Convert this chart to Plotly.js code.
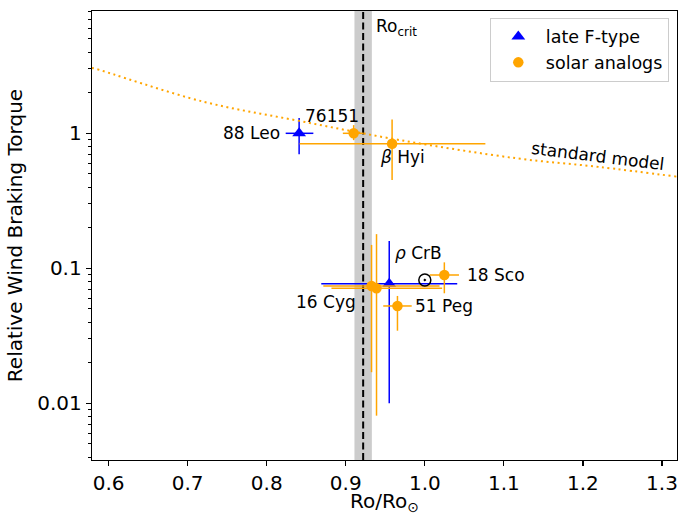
<!DOCTYPE html>
<html>
<head>
<meta charset="utf-8">
<script src="https://cdn.plot.ly/plotly-3.0.1.min.js"></script>
<style>html,body{margin:0;padding:0;background:#fff;}#plot{width:681px;height:515px;}</style>
</head>
<body>
<div id="plot"></div>
<script>
// late F-type stars
const fNames = ["88 Leo", "ρ CrB"];
const fRo = [0.841, 0.955];
const fTorque = [1.0, 0.077];
const fRoErrMinus = [0.017, 0.086];
const fRoErrPlus = [0.018, 0.086];
const fTorqueErrMinus = [0.30, 0.067];
const fTorqueErrPlus = [0.30, 0.082];

// solar analogs
const sNames = ["76151", "β Hyi", "16 Cyg A", "16 Cyg B", "51 Peg", "18 Sco"];
const sRo = [0.910, 0.9586, 0.9326, 0.9389, 0.9654, 1.0247];
const sTorque = [1.0, 0.838, 0.074, 0.0711, 0.0526, 0.0892];
const sRoErrMinus = [0.0137, 0.117, 0.061, 0.057, 0.018, 0.0185];
const sRoErrPlus = [0.0125, 0.118, 0.086, 0.083, 0.018, 0.0185];
const sTorqueErrMinus = [0.11, 0.387, 0.057, 0.063, 0.0181, 0.0239];
const sTorqueErrPlus = [0.15, 0.43, 0.075, 0.108, 0.0098, 0.0215];

// the Sun
const sunRo = [1.0];
const sunTorque = [0.082];

// standard model curve
const modelRo = [0.579, 0.585, 0.720, 0.842, 0.968, 1.116, 1.221, 1.319];
const modelTorque = [3.05, 2.99, 1.714, 1.233, 0.892, 0.653, 0.563, 0.477];

// critical Rossby number and its band
const roCrit = 0.922;
const roCritLow = 0.911;
const roCritHigh = 0.933;

// tick labels
const xTicks = [0.6, 0.7, 0.8, 0.9, 1.0, 1.1, 1.2, 1.3];
const xTickText = ["0.6", "0.7", "0.8", "0.9", "1.0", "1.1", "1.2", "1.3"];
const yTicks = [0.01, 0.1, 1];
const yTickText = ["0.01", "0.1", "1"];
const yMinorTicks = [0.004, 0.005, 0.006, 0.007, 0.008, 0.009,
                     0.02, 0.03, 0.04, 0.05, 0.06, 0.07, 0.08, 0.09,
                     0.2, 0.3, 0.4, 0.5, 0.6, 0.7, 0.8, 0.9,
                     2, 3, 4, 5, 6, 7, 8];

const FONT = "DejaVu Sans, Verdana, sans-serif";
const BLUE = "#0000ff";
const ORANGE = "#ffa500";
const Y_RANGE = [-2.42, 0.906];

const traces = [
  {
    x: modelRo, y: modelTorque, mode: "lines", type: "scatter", yaxis: "y2",
    line: {color: ORANGE, width: 2, dash: "2px,3.6px", shape: "spline"},
    showlegend: false, hoverinfo: "skip"
  },
  {
    name: "late F-type", x: fRo, y: fTorque, mode: "markers", type: "scatter",
    marker: {symbol: "triangle-up", size: 12, color: BLUE},
    error_x: {type: "data", symmetric: false, array: fRoErrPlus, arrayminus: fRoErrMinus, color: BLUE, thickness: 1.5, width: 0},
    error_y: {type: "data", symmetric: false, array: fTorqueErrPlus, arrayminus: fTorqueErrMinus, color: BLUE, thickness: 1.5, width: 0},
    text: fNames
  },
  {
    name: "solar analogs", x: sRo, y: sTorque, mode: "markers", type: "scatter",
    marker: {symbol: "circle", size: 10.5, color: ORANGE},
    error_x: {type: "data", symmetric: false, array: sRoErrPlus, arrayminus: sRoErrMinus, color: ORANGE, thickness: 1.5, width: 0},
    error_y: {type: "data", symmetric: false, array: sTorqueErrPlus, arrayminus: sTorqueErrMinus, color: ORANGE, thickness: 1.5, width: 0},
    text: sNames
  },
  {
    x: sunRo, y: sunTorque, mode: "markers", type: "scatter",
    marker: {symbol: "circle-open-dot", size: 12, color: "black", line: {color: "black", width: 1.5}},
    showlegend: false
  }
];

const L = Math.log10;
const annFont = {family: FONT, size: 17, color: "black"};
const annotations = [
  {x: roCrit + 0.014, y: 0.963, xref: "x", yref: "paper", text: "Ro<sub>crit</sub>", showarrow: false, xanchor: "left", yanchor: "middle", font: annFont},
  {x: 0.819, y: L(1.0), text: "88 Leo", xanchor: "right", yanchor: "middle"},
  {x: 0.8827, y: L(1.348), text: "76151", xanchor: "center", yanchor: "middle"},
  {x: 0.941, y: L(0.668), text: "<i>β</i> Hyi", xanchor: "left", yanchor: "middle"},
  {x: 0.9599, y: L(0.129), text: "<i>ρ</i> CrB", xanchor: "left", yanchor: "middle"},
  {x: 1.0504, y: L(0.0892), text: "18 Sco", xanchor: "left", yanchor: "middle"},
  {x: 0.9851, y: L(0.0526), text: "51 Peg", xanchor: "left", yanchor: "middle"},
  {x: 0.9157, y: L(0.0566), text: "16 Cyg", xanchor: "right", yanchor: "middle"},
  {x: 1.219, y: L(0.678), text: "standard model", xanchor: "center", yanchor: "middle", textangle: 7}
].map(a => Object.assign({xref: "x", yref: "y", showarrow: false, font: annFont}, a));

const layout = {
  width: 681, height: 515,
  margin: {l: 92, r: 4, t: 11, b: 55, pad: 0},
  paper_bgcolor: "white", plot_bgcolor: "white",
  font: {family: FONT, size: 20, color: "black"},
  xaxis: {
    range: [0.579, 1.319], tickvals: xTicks, ticktext: xTickText,
    ticks: "outside", ticklen: 5, tickwidth: 1.2, tickcolor: "black",
    showline: true, linecolor: "black", linewidth: 1.3, mirror: true,
    showgrid: false, zeroline: false,
    tickfont: {family: FONT, size: 20},
    title: {text: "Ro/Ro<sub>⊙</sub>", font: {family: FONT, size: 20}, standoff: 7}
  },
  yaxis: {
    type: "log", range: Y_RANGE, tickvals: yTicks, ticktext: yTickText,
    ticks: "outside", ticklen: 5, tickwidth: 1.2, tickcolor: "black",
    showline: true, linecolor: "black", linewidth: 1.3, mirror: true,
    showgrid: false, zeroline: false,
    tickfont: {family: FONT, size: 20},
    title: {text: "Relative Wind Braking Torque", font: {family: FONT, size: 20}, standoff: 9}
  },
  yaxis2: {
    type: "log", range: Y_RANGE, overlaying: "y", side: "left", anchor: "x",
    tickvals: yMinorTicks, showticklabels: false,
    ticks: "outside", ticklen: 3.5, tickwidth: 1, tickcolor: "black",
    showline: false, showgrid: false, zeroline: false
  },
  shapes: [
    {type: "rect", xref: "x", yref: "paper", x0: roCritLow, x1: roCritHigh, y0: 0, y1: 1, fillcolor: "#cccccc", line: {width: 0}, layer: "below"},
    {type: "line", xref: "x", yref: "paper", x0: roCrit, x1: roCrit, y0: 0, y1: 1, line: {color: "black", width: 2, dash: "7px,3.5px"}, layer: "below"}
  ],
  annotations: annotations,
  legend: {
    x: 0.986, y: 0.985, xanchor: "right", yanchor: "top",
    bgcolor: "rgba(255,255,255,0.8)", bordercolor: "#cccccc", borderwidth: 1,
    font: {family: FONT, size: 17.5}, itemwidth: 45, tracegroupgap: 0
  },
  showlegend: true
};

Plotly.newPlot("plot", traces, layout, {displayModeBar: false, staticPlot: true});
</script>
</body>
</html>
